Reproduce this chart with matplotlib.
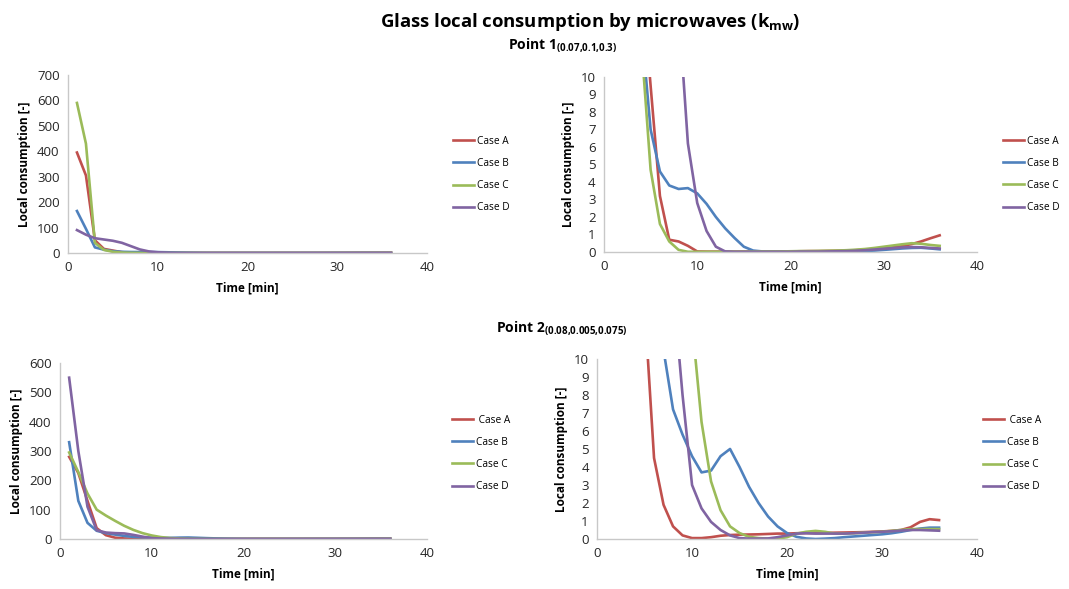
import matplotlib
matplotlib.use("Agg")
import matplotlib.pyplot as plt
import numpy as np

plt.rcParams['font.family'] = ['Open Sans', 'DejaVu Sans']
plt.rcParams['mathtext.fontset'] = 'custom'
plt.rcParams['mathtext.rm'] = 'Open Sans'
plt.rcParams['mathtext.bf'] = 'Open Sans:bold'

# time in minutes
time_min = list(range(1, 37))
cases = ["Case A", "Case B", "Case C", "Case D"]
colors = ["#C0504D", "#4F81BD", "#9BBB59", "#8064A2"]

# Point 1 (0.07, 0.1, 0.3)
p1_case_a = [395, 305, 50, 16, 9.5, 3.2, 0.7, 0.6, 0.35, 0.03, 0.02, 0.02, 0.02, 0.02, 0.02, 0.02,
             0.02, 0.02, 0.03, 0.03, 0.04, 0.05, 0.05, 0.06, 0.07, 0.08, 0.1, 0.13, 0.17, 0.22,
             0.28, 0.35, 0.45, 0.6, 0.78, 0.95]
p1_case_b = [165, 95, 22, 13, 7, 4.6, 3.8, 3.6, 3.65, 3.35, 2.75, 2.0, 1.35, 0.8, 0.3, 0.08,
             0.03, 0.02, 0.02, 0.02, 0.02, 0.02, 0.02, 0.02, 0.02, 0.03, 0.04, 0.06, 0.08, 0.12,
             0.16, 0.2, 0.23, 0.24, 0.2, 0.15]
p1_case_c = [590, 430, 40, 12, 4.7, 1.6, 0.6, 0.12, 0.01, 0.01, 0.01, 0.01, 0.02, 0.02, 0.02, 0.02,
             0.03, 0.03, 0.03, 0.04, 0.05, 0.05, 0.06, 0.07, 0.08, 0.1, 0.13, 0.17, 0.23, 0.3,
             0.37, 0.44, 0.5, 0.47, 0.4, 0.35]
p1_case_d = [90, 72, 58, 53, 48, 40, 27, 14, 6.2, 2.8, 1.2, 0.3, 0.03, 0.01, 0.01, 0.01,
             0.01, 0.01, 0.01, 0.01, 0.02, 0.02, 0.02, 0.03, 0.04, 0.05, 0.07, 0.1, 0.14, 0.18,
             0.22, 0.26, 0.28, 0.27, 0.23, 0.2]

# Point 2 (0.08, 0.005, 0.075)
p2_case_a = [280, 225, 130, 37, 13, 4.5, 1.9, 0.7, 0.2, 0.05, 0.05, 0.1, 0.18, 0.22, 0.24, 0.25,
             0.26, 0.28, 0.3, 0.3, 0.32, 0.33, 0.33, 0.34, 0.35, 0.36, 0.37, 0.38, 0.4, 0.42,
             0.45, 0.5, 0.65, 0.95, 1.1, 1.05]
p2_case_b = [330, 130, 55, 28, 20, 15, 10.5, 7.2, 5.8, 4.6, 3.7, 3.8, 4.6, 5.0, 4.0, 2.9,
             2.0, 1.25, 0.7, 0.33, 0.12, 0.03, 0.0, 0.02, 0.05, 0.1, 0.14, 0.18, 0.22, 0.26,
             0.32, 0.4, 0.5, 0.58, 0.63, 0.63]
p2_case_c = [295, 228, 155, 100, 80, 62, 45, 31, 20, 12, 6.5, 3.2, 1.6, 0.7, 0.33, 0.12,
             0.05, 0.02, 0.02, 0.1, 0.3, 0.4, 0.45, 0.4, 0.3, 0.3, 0.32, 0.35, 0.38, 0.4,
             0.45, 0.5, 0.55, 0.55, 0.55, 0.55]
p2_case_d = [550, 300, 110, 30, 22, 20, 19, 14, 8, 3, 1.7, 0.95, 0.5, 0.2, 0.05, 0.02,
             0.02, 0.03, 0.1, 0.2, 0.3, 0.32, 0.3, 0.3, 0.3, 0.3, 0.32, 0.35, 0.38, 0.4,
             0.43, 0.47, 0.5, 0.5, 0.48, 0.46]

point1 = [p1_case_a, p1_case_b, p1_case_c, p1_case_d]
point2 = [p2_case_a, p2_case_b, p2_case_c, p2_case_d]


def draw_panel(ax, series, ymax, ystep, labels, legend_anchor):
    for vals, lab, col in zip(series, labels, colors):
        ax.plot(time_min, vals, color=col, lw=1.9, label=lab, solid_joinstyle='round')
    ax.set_xlim(0, 40)
    ax.set_ylim(0, ymax)
    ax.set_xticks(np.arange(0, 41, 10))
    ax.set_yticks(np.arange(0, ymax + ystep / 2, ystep))
    for s in ['top', 'right']:
        ax.spines[s].set_visible(False)
    for s in ['left', 'bottom']:
        ax.spines[s].set_color('#C8C8C8')
        ax.spines[s].set_linewidth(1.0)
    ax.tick_params(length=0, labelsize=9.5, colors='#262626', pad=6)
    ax.set_xlabel('Time [min]', fontsize=8.5, fontweight='bold', labelpad=5)
    ax.set_ylabel('Local consumption [-]', fontsize=8.5, fontweight='bold', labelpad=4)
    ax.legend(loc='center left', bbox_to_anchor=legend_anchor, frameon=False,
              fontsize=7.3, handlelength=2.1, handletextpad=0.3, labelspacing=1.1,
              borderaxespad=0, borderpad=0)


fig = plt.figure(figsize=(10.69, 5.89), dpi=100)

ax1 = fig.add_axes([0.0636, 0.5705, 0.3358, 0.3022])
ax2 = fig.add_axes([0.5650, 0.5722, 0.3489, 0.2971])
ax3 = fig.add_axes([0.0561, 0.0849, 0.3433, 0.2988])
ax4 = fig.add_axes([0.5585, 0.0849, 0.3555, 0.3056])

draw_panel(ax1, point1, 700, 100, cases, (1.072, 0.441))
draw_panel(ax2, point1, 10, 1, cases, (1.07, 0.443))
labels2 = [" Case A", "Case B", "Case C", "Case D"]
draw_panel(ax3, point2, 600, 100, labels2, (1.068, 0.486))
draw_panel(ax4, point2, 10, 1, labels2, (1.016, 0.475))

fig.text(0.552, 0.9626, r"Glass local consumption by microwaves (k$_{\mathbf{mw}}$)",
         ha='center', va='center', fontsize=13.3, fontweight='bold')
fig.text(0.526, 0.9236, r"Point 1$_{\mathbf{(0.07{,}0.1{,}0.3)}}$",
         ha='center', va='center', fontsize=10, fontweight='bold')
fig.text(0.525, 0.443, r"Point 2$_{\mathbf{(0.08{,}0.005{,}0.075)}}$",
         ha='center', va='center', fontsize=10, fontweight='bold')

fig.savefig('out.png', dpi=100)
